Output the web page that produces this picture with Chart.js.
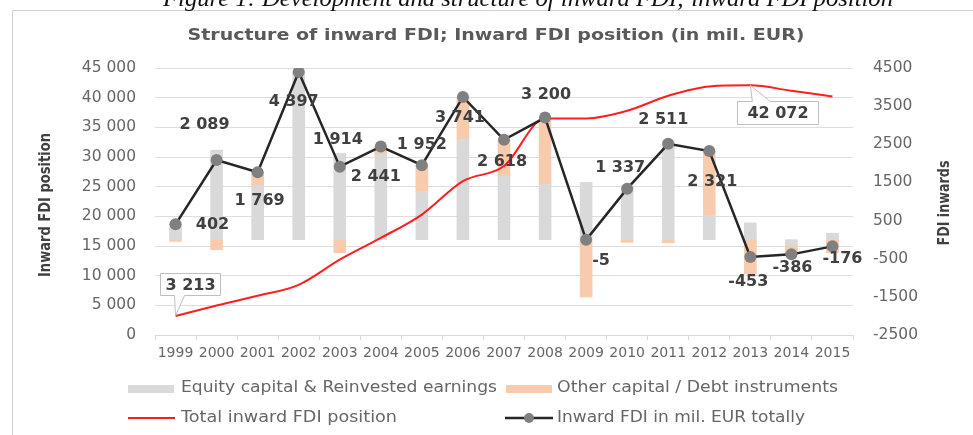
<!DOCTYPE html>
<html><head><meta charset="utf-8">
<script src="https://cdn.jsdelivr.net/npm/chart.js@4.4.1/dist/chart.umd.min.js"></script>
<style>html,body{margin:0;padding:0;background:#fff;}#wrap{position:relative;width:973px;height:435px;}canvas{display:block;}</style>
</head><body><div id="wrap"><canvas id="c" width="973" height="435"></canvas></div>
<script>
// ---- data ----
const years = ['1999','2000','2001','2002','2003','2004','2005','2006','2007','2008','2009','2010','2011','2012','2013','2014','2015'];
const equityCapital = [450, 2350, 1420, 4397, 2256, 2237, 1263, 2632, 1658, 1447, 1500, 1407, 2591, 632, 440, -150, 170];
const otherCapital  = [-48, -261, 349, 0, -342, 204, 689, 1109, 960, 1753, -1505, -70, -80, 1689, -893, -236, -346];
const totalPosition = [3213, 4960, 6600, 8460, 12690, 16360, 20300, 25940, 28470, 36500, 36490, 37780, 40320, 41900, 42072, 41160, 40210];
const inwardFDI     = [402, 2089, 1769, 4397, 1914, 2441, 1952, 3741, 2618, 3200, -5, 1337, 2511, 2321, -453, -386, -176];
const leftAxis  = {min: 0, max: 45000, step: 5000};
const rightAxis = {min: -2500, max: 4500, step: 1000};
const seriesNames = ['Equity capital & Reinvested earnings', 'Other capital / Debt instruments', 'Total inward FDI position', 'Inward FDI in mil. EUR totally'];
const titleText = 'Structure of inward FDI; Inward FDI position (in mil. EUR)';
const captionText = 'Figure 1: Development and structure of inward FDI; inward FDI position';
const leftTitle = 'Inward FDI position';
const rightTitle = 'FDI inwards';
const calloutIdx = [0, 14];

// ---- styling ----
const labelOffsets = [[37,1],[-12,-35],[2,29],[-5,30],[-2,-27],[-5,30],[0,-20],[-3,21],[-2,22],[1,-23],[15,21],[-7,-21],[-5,-24],[3,31],[-2,25],[1,13],[10,12]];
const C_GRAY = '#d9d9d9', C_ORANGE = '#f8cbad', C_RED = '#ff1e1e', C_BLACK = '#262626', C_MARK = '#808080';
const TXT = '#666666', TXT_D = '#404040';
const F = 'DejaVu Sans';

function fmt(n){ const s = String(Math.abs(n)).replace(/\B(?=(\d{3})+(?!\d))/g,' '); return (n<0?'-':'')+s; }

function fitText(ctx, text, x, y, w, font, color, align, rot, base){
  ctx.save(); ctx.font = font; ctx.fillStyle = color; ctx.textBaseline = base || 'middle';
  const m = ctx.measureText(text).width; const s = w / m;
  ctx.translate(x, y); if (rot) ctx.rotate(rot);
  ctx.scale(s, 1);
  ctx.textAlign = align || 'center';
  ctx.fillText(text, 0, 0); ctx.restore();
}

const decor = {
  id: 'decor',
  beforeDraw(chart){
    const ctx = chart.ctx;
    ctx.save(); ctx.fillStyle = '#fff'; ctx.fillRect(0,0,chart.width,chart.height);
    ctx.strokeStyle = '#d0d0d0'; ctx.lineWidth = 1;
    ctx.beginPath(); ctx.moveTo(12.5, 440); ctx.lineTo(12.5, 10.5); ctx.lineTo(990, 10.5); ctx.stroke();
    ctx.restore();
    // caption (cropped at top)
    fitText(ctx, captionText, 528, 6, 730, 'italic 23px "Liberation Serif"', '#111', 'center', 0, 'alphabetic');
    fitText(ctx, titleText, 496, 36, 617, 'bold 16px "'+F+'"', '#5a5a5a', 'center');
    fitText(ctx, leftTitle, 46, 205, 144, 'bold 15px "'+F+'"', TXT_D, 'center', -Math.PI/2);
    fitText(ctx, rightTitle, 945, 203, 85, 'bold 15px "'+F+'"', TXT_D, 'center', -Math.PI/2);
  },
  afterDatasetsDraw(chart){
    const ctx = chart.ctx;
    const meta = chart.getDatasetMeta(3);
    ctx.save(); ctx.font = 'bold 16px "'+F+'"'; ctx.fillStyle = TXT_D; ctx.textAlign = 'center'; ctx.textBaseline = 'middle';
    meta.data.forEach((p, i) => { const o = labelOffsets[i]; ctx.fillText(fmt(inwardFDI[i]), p.x + o[0], p.y + o[1]); });
    ctx.restore();
    const rm = chart.getDatasetMeta(2);
    const boxes = [
      {l:-16, r:44, t:-43, b:-21, tail:[-1, 9], side:'bottom'},
      {l:-13, r:68, t:16, b:39, tail:[2, 20], side:'top'}
    ];
    calloutIdx.forEach((idx, k) => {
      const p = rm.data[idx]; const bx = boxes[k];
      const L = Math.round(p.x + bx.l)+0.5, R = Math.round(p.x + bx.r)+0.5, T = Math.round(p.y + bx.t)+0.5, B = Math.round(p.y + bx.b)+0.5;
      const a = p.x + bx.tail[0], b = p.x + bx.tail[1];
      ctx.save(); ctx.strokeStyle = '#bfbfbf'; ctx.fillStyle = '#fff'; ctx.lineWidth = 1;
      ctx.beginPath();
      if (bx.side === 'bottom') {
        ctx.moveTo(L,T); ctx.lineTo(R,T); ctx.lineTo(R,B); ctx.lineTo(b,B); ctx.lineTo(p.x, p.y); ctx.lineTo(a,B); ctx.lineTo(L,B); ctx.closePath();
      } else {
        ctx.moveTo(L,T); ctx.lineTo(a,T); ctx.lineTo(p.x, p.y); ctx.lineTo(b,T); ctx.lineTo(R,T); ctx.lineTo(R,B); ctx.lineTo(L,B); ctx.closePath();
      }
      ctx.fill(); ctx.stroke();
      ctx.font = 'bold 16px "'+F+'"'; ctx.fillStyle = TXT_D; ctx.textAlign = 'center'; ctx.textBaseline = 'middle';
      ctx.fillText(fmt(totalPosition[idx]), (L+R)/2, (T+B)/2 + 1);
      ctx.restore();
    });
  },
  afterDraw(chart){
    const ctx = chart.ctx;
    ctx.save();
    ctx.fillStyle = C_GRAY; ctx.fillRect(128, 385, 46, 8);
    ctx.fillStyle = C_ORANGE; ctx.fillRect(506, 385, 46, 8);
    ctx.strokeStyle = C_RED; ctx.lineWidth = 2; ctx.beginPath(); ctx.moveTo(128, 418); ctx.lineTo(175, 418); ctx.stroke();
    ctx.strokeStyle = C_BLACK; ctx.lineWidth = 2.5; ctx.beginPath(); ctx.moveTo(505, 418); ctx.lineTo(553, 418); ctx.stroke();
    ctx.fillStyle = C_MARK; ctx.beginPath(); ctx.arc(529, 418, 5, 0, Math.PI*2); ctx.fill();
    ctx.restore();
    const lf = '15px "'+F+'"';
    fitText(ctx, seriesNames[0], 181, 388, 316, lf, TXT, 'left');
    fitText(ctx, seriesNames[1], 557, 388, 281, lf, TXT, 'left');
    fitText(ctx, seriesNames[2], 181, 418, 216, lf, TXT, 'left');
    fitText(ctx, seriesNames[3], 557, 418, 248, lf, TXT, 'left');
  }
};

new Chart(document.getElementById('c'), {
  data: {
    labels: years,
    datasets: [
      {type:'bar', label: seriesNames[0], data: equityCapital, yAxisID:'y2', stack:'fdi', backgroundColor: C_GRAY, barThickness: 12, order: 3},
      {type:'bar', label: seriesNames[1], data: otherCapital, yAxisID:'y2', stack:'fdi', backgroundColor: C_ORANGE, barThickness: 12, order: 3},
      {type:'line', label: seriesNames[2], data: totalPosition, yAxisID:'y', borderColor: C_RED, borderWidth: 2, pointRadius: 0, cubicInterpolationMode: 'monotone', order: 2},
      {type:'line', label: seriesNames[3], data: inwardFDI, yAxisID:'y2', stack:'total', borderColor: C_BLACK, borderWidth: 2.5, pointRadius: 6, pointBackgroundColor: C_MARK, pointBorderColor: C_MARK, pointBorderWidth: 0, tension: 0, order: 1}
    ]
  },
  options: {
    responsive: false, animation: false,
    layout: {padding: {top: 68, left: 0, right: 0, bottom: 0}},
    plugins: {legend: {display: false}, title: {display: false}, tooltip: {enabled: false}},
    scales: {
      x: {
        offset: true,
        grid: {offset: true, drawOnChartArea: false, color: C_GRAY, tickLength: 5},
        border: {display: true, color: C_GRAY},
        ticks: {color: TXT, font: {family: F, size: 14}, padding: 5, maxRotation: 0, autoSkip: false},
        afterFit: s => { s.height = 100; }
      },
      y: {
        position: 'left', min: leftAxis.min, max: leftAxis.max,
        ticks: {stepSize: leftAxis.step, color: TXT, font: {family: F, size: 15.5}, padding: 19, callback: v => fmt(v)},
        grid: {color: '#dedede', drawTicks: false},
        border: {display: false},
        afterFit: s => { s.width = 155; }
      },
      y2: {
        position: 'right', min: rightAxis.min, max: rightAxis.max, stacked: true,
        ticks: {stepSize: rightAxis.step, color: TXT, font: {family: F, size: 15.5}, padding: 20, callback: v => String(v)},
        grid: {display: false, drawTicks: false},
        border: {display: false},
        afterFit: s => { s.width = 120; }
      }
    }
  },
  plugins: [decor]
});
</script></body></html>
